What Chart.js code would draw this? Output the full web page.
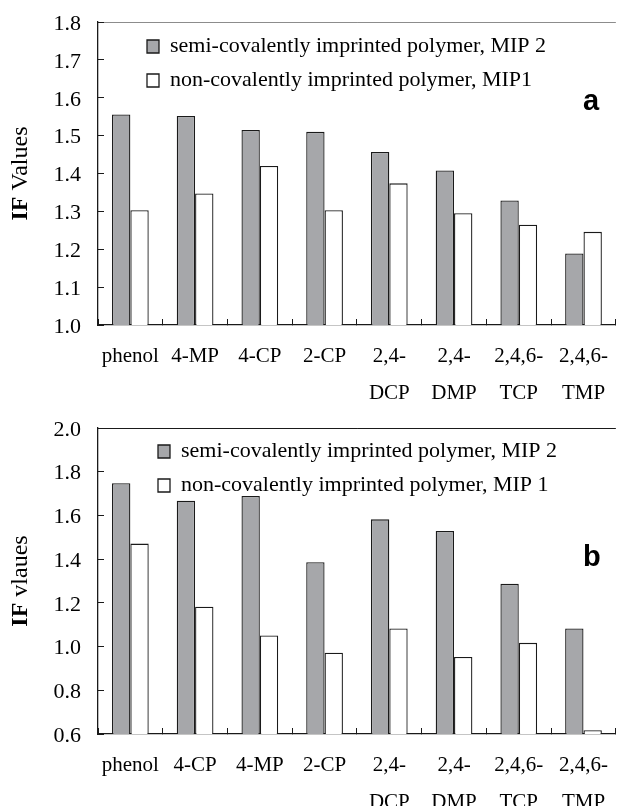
<!DOCTYPE html>
<html>
<head>
<meta charset="utf-8">
<script src="https://cdn.jsdelivr.net/npm/chart.js@4.4.1/dist/chart.umd.min.js"></script>
<style>
  html, body { margin: 0; padding: 0; background: #fff; overflow: hidden; }
  #wrap { position: relative; width: 621px; height: 806px; overflow: hidden; }
  canvas { position: absolute; left: 0; }
  #chartA { top: 0; }
  #chartB { top: 400px; }
</style>
</head>
<body>
<div id="wrap">
  <canvas id="chartA" width="627" height="410"></canvas>
  <canvas id="chartB" width="627" height="406"></canvas>
</div>
<script>
// panel a
const labelsA = ['phenol', '4-MP', '4-CP', '2-CP', ['2,4-', 'DCP'], ['2,4-', 'DMP'], ['2,4,6-', 'TCP'], ['2,4,6-', 'TMP']];
const semiA = [1.556, 1.552, 1.515, 1.510, 1.457, 1.408, 1.329, 1.189];
const nonA = [1.303, 1.347, 1.420, 1.303, 1.374, 1.295, 1.265, 1.246];
const ticksA = [1.0, 1.1, 1.2, 1.3, 1.4, 1.5, 1.6, 1.7, 1.8];

// panel b
const labelsB = ['phenol', '4-CP', '4-MP', '2-CP', ['2,4-', 'DCP'], ['2,4-', 'DMP'], ['2,4,6-', 'TCP'], ['2,4,6-', 'TMP']];
const semiB = [1.747, 1.667, 1.689, 1.386, 1.582, 1.529, 1.287, 1.083];
const nonB = [1.471, 1.182, 1.051, 0.972, 1.083, 0.952, 1.017, 0.617];
const ticksB = [0.6, 0.8, 1.0, 1.2, 1.4, 1.6, 1.8, 2.0];

const serif = "'Liberation Serif', 'Times New Roman', serif";
const ink = '#1a1a1a';

// bold letter in the corner of each panel
const panelTag = {
    id: 'panelTag',
    afterDraw(chart, args, opts) {
        const ctx = chart.ctx;
        ctx.save();
        ctx.font = "bold 29px 'Liberation Sans', Arial, sans-serif";
        ctx.fillStyle = '#000';
        ctx.textBaseline = 'alphabetic';
        ctx.fillText(opts.text, opts.x, opts.y);
        ctx.restore();
    }
};

// y title with a bold "IF" and plain rest, rotated like an axis title
const yTitle = {
    id: 'yTitle',
    afterDraw(chart, args, opts) {
        const { ctx, chartArea } = chart;
        const bold = 'bold 24px ' + serif;
        const plain = '24px ' + serif;
        ctx.save();
        ctx.translate(opts.x, (chartArea.top + chartArea.bottom) / 2);
        ctx.rotate(-Math.PI / 2);
        ctx.fillStyle = '#000';
        ctx.textBaseline = 'middle';
        ctx.font = bold;
        const w1 = ctx.measureText(opts.lead).width;
        ctx.font = plain;
        const w2 = ctx.measureText(opts.rest).width;
        const x0 = -(w1 + w2) / 2;
        ctx.font = bold;
        ctx.fillText(opts.lead, x0, 0);
        ctx.font = plain;
        ctx.fillText(opts.rest, x0 + w1, 0);
        ctx.restore();
    }
};

// put the legend inside the plot, a bit in from the corner
const legendNudge = {
    id: 'legendNudge',
    afterLayout(chart, args, opts) {
        chart.legend.left = chart.chartArea.left + opts.dx;
        chart.legend.top = chart.chartArea.top + opts.dy;
    }
};

function makeChart(id, cats, semi, non, nonLabel, ticks, titleRest, setup) {
    const yMin = ticks[0];
    const yMax = ticks[ticks.length - 1];
    return new Chart(document.getElementById(id), {
        type: 'bar',
        data: {
            labels: cats,
            datasets: [
                {
                    label: 'semi-covalently imprinted polymer, MIP 2',
                    data: semi,
                    backgroundColor: '#a6a7aa',
                    borderColor: ink,
                    borderWidth: 1.3
                },
                {
                    label: nonLabel,
                    data: non,
                    backgroundColor: '#ffffff',
                    borderColor: ink,
                    borderWidth: 1.3
                }
            ]
        },
        options: {
            responsive: false,
            animation: false,
            categoryPercentage: 0.567,
            barPercentage: 1.0,
            layout: { padding: { top: setup.top, right: 0, bottom: 0, left: 0 } },
            plugins: {
                tooltip: { enabled: false },
                legend: {
                    position: 'chartArea',
                    align: 'start',
                    labels: {
                        color: '#000',
                        font: { family: serif, size: 22 },
                        boxWidth: 12,
                        boxHeight: 13,
                        padding: 12
                    }
                },
                legendNudge: { dx: setup.dx, dy: setup.dy },
                panelTag: { text: setup.tag, x: 583, y: setup.tagY },
                yTitle: { x: 21, lead: 'IF ', rest: titleRest }
            },
            scales: {
                x: {
                    afterFit: (scale) => { scale.height = setup.xHeight; },
                    grid: {
                        display: true,
                        drawOnChartArea: false,
                        offset: true,
                        tickLength: -6,
                        tickColor: ink,
                        tickWidth: 1
                    },
                    border: { display: true, color: ink, width: 1.3 },
                    ticks: {
                        color: '#000',
                        padding: 19,
                        maxRotation: 0,
                        minRotation: 0,
                        autoSkip: false,
                        font: { family: serif, size: 21, lineHeight: 1.76 }
                    }
                },
                y: {
                    min: yMin,
                    max: yMax,
                    afterFit: (scale) => {
                        scale.width = 98;
                        scale.paddingTop = 0;
                        scale.paddingBottom = 0;
                    },
                    afterBuildTicks: (scale) => { scale.ticks = ticks.map(v => ({ value: v })); },
                    grid: {
                        display: true,
                        drawOnChartArea: true,
                        tickLength: -6,
                        tickColor: ink,
                        color: (c) => (c.tick && c.tick.value === yMax ? setup.topLine : 'rgba(0,0,0,0)')
                    },
                    border: { display: true, color: ink, width: 1.3 },
                    ticks: {
                        color: '#000',
                        padding: 23,
                        labelOffset: 2,
                        font: { family: serif, size: 22 },
                        callback: (v) => Number(v).toFixed(1)
                    }
                }
            }
        },
        plugins: [panelTag, yTitle, legendNudge]
    });
}

makeChart('chartA', labelsA, semiA, nonA, 'non-covalently imprinted polymer, MIP1', ticksA, 'Values',
    { top: 22, xHeight: 85, dx: 37, dy: 1.5, tag: 'a', tagY: 110, topLine: '#8c8c8c' });

makeChart('chartB', labelsB, semiB, nonB, 'non-covalently imprinted polymer, MIP 1', ticksB, 'vlaues',
    { top: 28, xHeight: 72, dx: 48, dy: 0.5, tag: 'b', tagY: 166, topLine: ink });
</script>
</body>
</html>
